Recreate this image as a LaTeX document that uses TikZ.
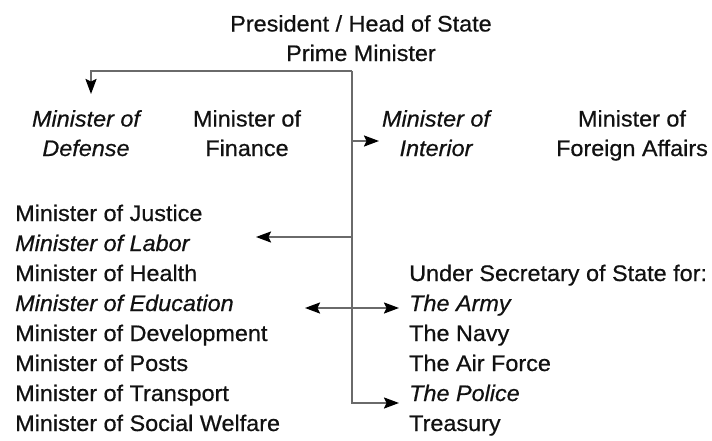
\documentclass[tikz,border=0pt]{standalone}
\usepackage{fontspec}
\setmainfont[FakeStretch=1.04, FakeBold=0.6]{Liberation Sans}
\usetikzlibrary{arrows.meta}
\definecolor{linegrau}{HTML}{6a6a6a}
\definecolor{textschwarz}{HTML}{111111}

\begin{document}
\begin{tikzpicture}[x=1pt, y=-1pt,
    every node/.style={inner sep=0pt, text=textschwarz,
        font=\fontsize{22.5}{29.5}\selectfont},
    item/.style={anchor=base west},
    head/.style={anchor=north, align=center},
    >={Stealth[length=15pt, width=11pt, inset=2.5pt, black]},
    arr/.style={draw=linegrau, line width=1.9pt, ->}]
    \useasboundingbox (0,0) rectangle (712,441);

    % Spitze
    \node[head] (chef) at (361,15) {President / Head of State\\Prime Minister};

    % Zweite Reihe
    \node[head] (verteidigung) at (86,110) {\itshape Minister of\\\itshape Defense};
    \node[head] (finanzen) at (247,110) {Minister of\\Finance};
    \node[head] (innen) at (436,110) {\itshape Minister of\\\itshape Interior};
    \node[head] (aussen) at (632,110) {Minister of\\Foreign Affairs};

    % Linke Liste
    \foreach \name/\txt [count=\k] in {justiz/Minister of Justice,
        arbeit/\textit{Minister of Labor}, gesundheit/Minister of Health,
        bildung/\textit{Minister of Education}, entwicklung/Minister of Development,
        post/Minister of Posts, verkehr/Minister of Transport,
        sozial/Minister of Social Welfare} {
        \node[item] (\name) at (15,{191+30*\k}) {\txt};
    }

    % Rechte Liste
    \foreach \name/\txt [count=\k] in {staatssekretaer/Under Secretary of State for:,
        armee/\textit{The Army}, marine/The Navy, luftwaffe/The Air Force,
        polizei/\textit{The Police}, schatz/Treasury} {
        \node[item] (\name) at (409,{251+30*\k}) {\txt};
    }

    % Verbindungspunkte
    \coordinate (knoten) at (352,71);
    \coordinate (vspitze) at (91,94);
    \coordinate (iab) at (352,141);
    \coordinate (ispitze) at (379,141);
    \coordinate (aab) at (352,237);
    \coordinate (aspitze) at (256,237);
    \coordinate (blinks) at (305,308);
    \coordinate (brechts) at (399,308);
    \coordinate (pspitze) at (399,403);

    % Verbindungen
    \draw[arr] (knoten) -| (vspitze);
    \draw[arr] (knoten) |- (pspitze);
    \draw[arr] (iab) -- (ispitze);
    \draw[arr] (aab) -- (aspitze);
    \draw[arr, <->] (blinks) -- (brechts);
\end{tikzpicture}
\end{document}
